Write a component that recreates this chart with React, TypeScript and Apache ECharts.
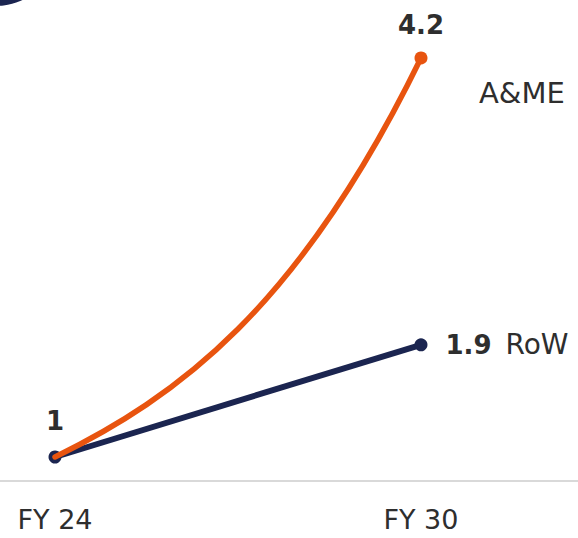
import React, { useEffect, useRef } from "react";
import * as echarts from "echarts";

// Fiscal years on the x axis (index positions 0 and 1)
const periods = ["FY 24", "FY 30"];
const periodIndex = [0, 1];

// Indexed market size (FY 24 = 1)
const rowValues = [1, 1.9];
const ameValues = [1, 4.2];

const seriesNames = { ame: "A&ME", row: "RoW" };

const NAVY = "#1b2550";
const ORANGE = "#e8540f";
const TEXT = "#2e2e2e";
const FONT = "'DejaVu Sans', 'Noto Sans', sans-serif";

export default function App() {
  const ref = useRef<HTMLDivElement>(null);

  useEffect(() => {
    if (!ref.current) return;
    const chart = echarts.init(ref.current, undefined, { renderer: "svg" });

    const rowData = periodIndex.map((x, i) =>
      i === rowValues.length - 1
        ? { value: [x, rowValues[i]], label: { position: "right", distance: 18 } }
        : { value: [x, rowValues[i]], label: { position: "top", distance: 16 } }
    );
    const ameCurve = [[periodIndex[0], ameValues[0], periodIndex[1], ameValues[1]]];

    chart.setOption({
      animation: false,
      backgroundColor: "#ffffff",
      grid: { left: 0, right: 0, top: 0, bottom: 57 },
      xAxis: {
        type: "value",
        min: -0.1503,
        max: 1.429,
        splitLine: { show: false },
        axisLine: { show: true, lineStyle: { color: "#d9d9d9", width: 2 } },
        axisTick: { show: false },
        axisLabel: {
          customValues: periodIndex,
          formatter: (v: number) => periods[Math.round(v)] ?? "",
          color: TEXT,
          fontFamily: FONT,
          fontSize: 27,
          margin: 25,
        },
      },
      yAxis: {
        type: "value",
        min: 0.8075,
        max: 4.665,
        show: false,
        splitLine: { show: false },
      },
      graphic: [
        {
          type: "circle",
          shape: { cx: -5, cy: -60, r: 66 },
          style: { fill: NAVY },
        },
        {
          type: "text",
          left: 479,
          top: 78,
          style: {
            text: seriesNames.ame,
            fill: TEXT,
            font: `normal 29px ${FONT}`,
          },
        },
      ],
      series: [
        {
          name: seriesNames.row,
          type: "line",
          data: rowData,
          symbol: "circle",
          symbolSize: 13,
          itemStyle: { color: NAVY },
          lineStyle: { color: NAVY, width: 6 },
          z: 2,
          label: {
            show: true,
            fontFamily: FONT,
            formatter: (p: any) =>
              p.dataIndex === 0
                ? `{v|${p.value[1]}}`
                : `{v|${p.value[1]}}{n|${seriesNames.row}}`,
            rich: {
              v: { fontSize: 26, fontWeight: "bold", color: TEXT, fontFamily: FONT },
              n: {
                fontSize: 28,
                fontWeight: "normal",
                color: TEXT,
                fontFamily: FONT,
                padding: [0, 0, 0, 14],
              },
            },
          },
        },
        {
          name: seriesNames.ame,
          type: "custom",
          z: 3,
          data: ameCurve,
          renderItem: (params: any, api: any) => {
            const p0 = api.coord([api.value(0), api.value(1)]);
            const p3 = api.coord([api.value(2), api.value(3)]);
            const dx = p3[0] - p0[0];
            const dy = p3[1] - p0[1];
            return {
              type: "bezierCurve",
              shape: {
                x1: p0[0],
                y1: p0[1],
                x2: p3[0],
                y2: p3[1],
                cpx1: p0[0] + dx / 3,
                cpy1: p0[1] + dy * 0.15,
                cpx2: p0[0] + (dx * 2) / 3,
                cpy2: p0[1] + dy * 0.372,
              },
              style: { stroke: ORANGE, lineWidth: 5.5, fill: null, lineCap: "round" },
            };
          },
        },
        {
          name: seriesNames.ame,
          type: "scatter",
          z: 4,
          data: [[periodIndex[1], ameValues[1]]],
          symbol: "circle",
          symbolSize: 13,
          itemStyle: { color: ORANGE, opacity: 1 },
          label: {
            show: true,
            position: "top",
            distance: 13,
            formatter: (p: any) => `${p.value[1]}`,
            fontSize: 26,
            fontWeight: "bold",
            color: TEXT,
            fontFamily: FONT,
          },
        },
      ],
    });

    return () => chart.dispose();
  }, []);

  return <div ref={ref} style={{ width: 578, height: 538, position: "absolute", left: 0, top: 0 }} />;
}
